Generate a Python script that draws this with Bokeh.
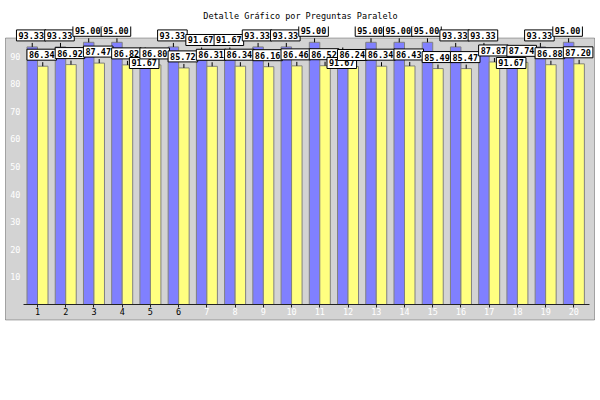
from bokeh.plotting import figure
from bokeh.models import (ColumnDataSource, LinearAxis, FixedTicker,
                          Range1d, BoxAnnotation)
from bokeh.embed import file_html
from bokeh.resources import INLINE
from bokeh.core.properties import value

# ---- data ----
preguntas = ["1", "2", "3", "4", "5", "6", "7", "8", "9", "10",
             "11", "12", "13", "14", "15", "16", "17", "18", "19", "20"]
paralelo = [93.33, 93.33, 95.00, 95.00, 91.67, 93.33, 91.67, 91.67, 93.33, 93.33,
            95.00, 91.67, 95.00, 95.00, 95.00, 93.33, 93.33, 91.67, 93.33, 95.00]
general = [86.34, 86.92, 87.47, 86.82, 86.80, 85.72, 86.31, 86.34, 86.16, 86.46,
           86.52, 86.24, 86.34, 86.43, 85.49, 85.47, 87.87, 87.74, 86.88, 87.20]
y_ticks = [10, 20, 30, 40, 50, 60, 70, 80, 90]
titulo = "Detalle Gráfico por Preguntas Paralelo"

# labels that the original drew lower than the rest (indices of "paralelo")
bajadas = {4, 11, 17}

# ---- layout (pixels) ----
W, H = 600, 400
TOP = 26                 # frame top (below the title)
X0_PX, DX_PX = 37.0, 28.23   # centre of group 1, spacing of groups
Y0_PX, DY_PX = 304.0, 2.76   # pixel row of value 0, pixels per unit
GAP = 4                  # leader line length (px)
PAD = 2                  # label padding (px)


def xd(px):
    return (px - X0_PX) / DX_PX + 1


def yd(py):
    return (Y0_PX - py) / DY_PX


BAR_W = 0.372
FONT = "DejaVu Sans Mono"

pos = list(range(1, len(preguntas) + 1))
x_azul = [i - BAR_W / 2 for i in pos]
x_amar = [i + BAR_W / 2 for i in pos]

p = figure(width=W, height=H,
           x_range=Range1d(xd(0), xd(W)), y_range=Range1d(yd(H), yd(TOP)),
           output_backend="svg", toolbar_location=None,
           x_axis_location=None, y_axis_location=None,
           min_border_left=0, min_border_right=0,
           min_border_top=TOP, min_border_bottom=0)
p.grid.visible = False
p.background_fill_color = "white"
p.border_fill_color = "white"
p.outline_line_color = None

p.title.text = titulo
p.title.align = "center"
p.title.text_font = FONT
p.title.text_font_size = "8.5px"
p.title.text_font_style = "normal"
p.title.text_color = "black"
p.title.standoff = 12

# grey panel with black border
p.add_layout(BoxAnnotation(left=xd(5), right=xd(594), top=yd(37.5), bottom=yd(319.5),
                           fill_color="#d3d3d3", fill_alpha=1.0,
                           line_color="black", line_width=1, level="underlay"))

src = ColumnDataSource(dict(xa=x_azul, xb=x_amar, a=paralelo, b=general))
p.vbar(x="xa", top="a", bottom=0, width=BAR_W, source=src,
       fill_color="#8080ff", line_color="#808080", line_width=1)
p.vbar(x="xb", top="b", bottom=0, width=BAR_W, source=src,
       fill_color="#ffff80", line_color="#808080", line_width=1)

# leader lines and value labels, drawn in the original order
lx, ly, lt, lyl = [], [], [], []
for k in range(len(pos)):
    lx += [x_azul[k], x_amar[k]]
    ly += [paralelo[k], general[k]]
    lt += ["%.2f" % paralelo[k], "%.2f" % general[k]]
    drop_a = -(15 + GAP + 2 * PAD) if k in bajadas else 0
    lyl += [paralelo[k] + (GAP + PAD + drop_a) / DY_PX,
            general[k] + (GAP + PAD) / DY_PX]
lab_src = ColumnDataSource(dict(x=lx, y=ly, t=lt, yl=lyl,
                                y1=[v + GAP / DY_PX for v in ly]))
p.segment(x0="x", y0="y", x1="x", y1="y1", source=lab_src,
          line_color="black", line_width=1)
p.text(x="x", y="yl", text="t", source=lab_src, x_offset=-1,
       text_font=value(FONT), text_font_size="8.5px", text_font_style="bold",
       text_color="black", text_align="center", text_baseline="bottom",
       background_fill_color="white", border_line_color="black",
       border_line_width=1, padding=PAD)


# axes drawn inside the grey panel
def x_axis(ticks, color, line):
    ax = LinearAxis(ticker=FixedTicker(ticks=ticks), fixed_location=0,
                    bounds=(xd(23), xd(589)),
                    major_label_overrides={t: preguntas[t - 1] for t in ticks})
    ax.axis_line_color = "#222222" if line else None
    ax.major_tick_line_color = "#222222"
    ax.major_tick_in = 0
    ax.major_tick_out = 3
    ax.minor_tick_line_color = None
    ax.major_label_text_color = color
    ax.major_label_text_font = FONT
    ax.major_label_text_font_size = "8.5px"
    ax.major_label_standoff = 0
    return ax


p.add_layout(x_axis(pos[:6], "black", True), "below")
p.add_layout(x_axis(pos[6:], "white", False), "below")

yax = LinearAxis(ticker=FixedTicker(ticks=y_ticks), fixed_location=xd(23))
yax.axis_line_color = None
yax.major_tick_line_color = None
yax.minor_tick_line_color = None
yax.major_tick_in = 0
yax.major_tick_out = 0
yax.major_label_text_color = "white"
yax.major_label_text_font = FONT
yax.major_label_text_font_size = "8.5px"
yax.major_label_standoff = 3
p.add_layout(yax, "left")

open("out.html", "w").write(file_html(p, INLINE))
